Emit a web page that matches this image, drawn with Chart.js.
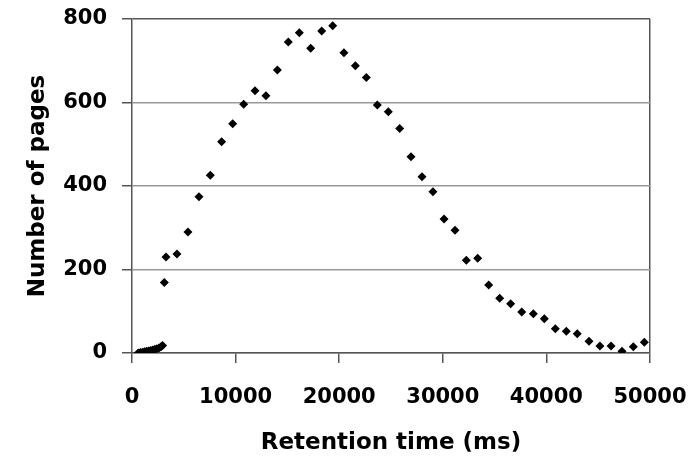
<!DOCTYPE html>
<html>
<head>
<meta charset="utf-8">
<script src="https://cdn.jsdelivr.net/npm/chart.js@4"></script>
<style>
  html, body { margin: 0; padding: 0; background: #fff; }
  #wrap { width: 700px; height: 457px; }
</style>
</head>
<body>
<div id="wrap"><canvas id="chart"></canvas></div>
<script>
// Retention time (ms) vs number of pages
const retentionMs = [
  600, 800, 1000, 1200, 1400, 1600, 1800, 2000, 2200, 2400, 2600, 2800, 2950,
  3120, 3280, 4340, 5400, 6470, 7560, 8650, 9720, 10780, 11870, 12930, 14030,
  15090, 16150, 17250, 18310, 19370, 20460, 21560, 22620, 23680, 24740, 25840,
  26930, 27990, 29050, 30120, 31180, 32270, 33370, 34430, 35490, 36550, 37620,
  38740, 39800, 40860, 41920, 42980, 44110, 45170, 46240, 47300, 48390, 49450
];
const pageCounts = [
  0, 1, 2, 3, 4, 5, 6, 7, 9, 10, 12, 15, 18,
  169, 230, 237, 290, 374, 426, 506, 549, 596, 628, 616, 678,
  745, 767, 730, 771, 784, 719, 688, 660, 594, 578, 538,
  470, 422, 386, 321, 294, 222, 227, 163, 131, 118, 98,
  94, 82, 58, 52, 46, 28, 17, 17, 4, 15, 26
];
const xTicks = [0, 10000, 20000, 30000, 40000, 50000];
const yTicks = [0, 200, 400, 600, 800];

const points = retentionMs.map((x, i) => ({ x: x, y: pageCounts[i] }));
const tickFont = { family: 'DejaVu Sans', size: 21, weight: 'bold' };
const titleFont = { family: 'DejaVu Sans', size: 23, weight: 'bold' };

// keep the plot frame where the original has it (labels may overflow into the margins)
function noScalePadding(s) {
    s.paddingTop = 0; s.paddingBottom = 0;
    s.paddingLeft = 0; s.paddingRight = 0;
}

new Chart(document.getElementById('chart'), {
    type: 'scatter',
    data: {
        datasets: [{
            data: points,
            pointStyle: 'rectRot',
            pointRadius: 4.5,
            pointBackgroundColor: '#000',
            pointBorderColor: '#000',
            pointBorderWidth: 0,
            showLine: false
        }]
    },
    options: {
        responsive: true,
        maintainAspectRatio: false,
        animation: false,
        layout: { padding: { top: 19, right: 50, left: 0, bottom: 0 } },
        plugins: { legend: { display: false }, tooltip: { enabled: false } },
        scales: {
            x: {
                type: 'linear',
                min: xTicks[0],
                max: xTicks[xTicks.length - 1],
                afterBuildTicks: s => { s.ticks = xTicks.map(v => ({ value: v })); },
                afterFit: s => { s.height = 104; noScalePadding(s); },
                border: { color: '#555', width: 1.5 },
                grid: {
                    color: c => (c.tick && c.tick.value === 50000) ? '#555' : 'rgba(0,0,0,0)',
                    tickColor: '#555',
                    tickLength: 10,
                    lineWidth: 1.5
                },
                ticks: {
                    color: '#000',
                    font: tickFont,
                    padding: 22,
                    maxRotation: 0,
                    callback: v => String(v)
                },
                title: {
                    display: true,
                    text: 'Retention time (ms)',
                    color: '#000',
                    font: titleFont,
                    padding: { top: 2, bottom: 0 }
                }
            },
            y: {
                type: 'linear',
                min: yTicks[0],
                max: yTicks[yTicks.length - 1],
                afterBuildTicks: s => { s.ticks = yTicks.map(v => ({ value: v })); },
                afterFit: s => { s.width = 132; noScalePadding(s); },
                border: { color: '#555', width: 1.5 },
                grid: {
                    color: c => (c.tick && c.tick.value === 800) ? '#555' : '#999',
                    tickColor: '#555',
                    tickLength: 10,
                    lineWidth: 1.5
                },
                ticks: {
                    color: '#000',
                    font: tickFont,
                    padding: 15,
                    callback: v => String(v)
                },
                title: {
                    display: true,
                    text: 'Number of pages',
                    color: '#000',
                    font: titleFont,
                    padding: { top: 24, bottom: 0 }
                }
            }
        }
    }
});
</script>
</body>
</html>
